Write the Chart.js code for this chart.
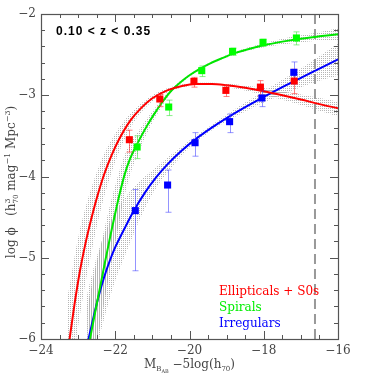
<!DOCTYPE html>
<html><head><meta charset="utf-8">
<script src="https://cdn.jsdelivr.net/npm/chart.js@4"></script>
<style>html,body{margin:0;padding:0;background:#fff}</style>
</head><body>
<canvas id="c" width="374" height="374"></canvas>
<script>
// ---- measured points with error bars ----
const redX  = [-21.62, -20.80, -19.88, -19.02, -18.09, -17.18];
const redY  = [-3.547, -3.046, -2.830, -2.940, -2.900, -2.825];
const redHi = [-3.43, -2.99, -2.78, -2.875, -2.82, -2.68];
const redLo = [-3.70, -3.14, -2.90, -3.015, -3.005, -2.98];

const grnX  = [-21.41, -20.56, -19.67, -18.84, -18.02, -17.12];
const grnY  = [-3.637, -3.145, -2.697, -2.460, -2.349, -2.295];
const grnHi = [-3.50, -3.06, -2.64, -2.42, -2.31, -2.22];
const grnLo = [-3.78, -3.25, -2.77, -2.51, -2.40, -2.38];

const bluX  = [-21.46, -20.59, -19.85, -18.92, -18.05, -17.19];
const bluY  = [-4.420, -4.105, -3.584, -3.325, -3.034, -2.718];
const bluHi = [-4.16, -3.92, -3.46, -3.23, -2.94, -2.59];
const bluLo = [-5.16, -4.44, -3.75, -3.46, -3.14, -2.86];

// ---- fitted curves and their uncertainty bands ----
const redCurveX = [-23.30,-23.23,-23.10,-22.95,-22.80,-22.65,-22.50,-22.30,-22.10,-21.90,-21.60,-21.30,-21.00,-20.60,-20.20,-19.80,-19.40,-19.00,-18.50,-18.00,-17.50,-17.00,-16.50,-16.00];
const redCurveY = [-6.25,-6.00,-5.58,-5.16,-4.82,-4.53,-4.27,-3.975,-3.74,-3.545,-3.315,-3.155,-3.037,-2.940,-2.885,-2.863,-2.862,-2.877,-2.909,-2.951,-3.000,-3.053,-3.109,-3.160];
const redBandHi = [-5.50,-5.35,-5.00,-4.65,-4.38,-4.15,-3.95,-3.72,-3.55,-3.40,-3.23,-3.10,-3.00,-2.915,-2.865,-2.845,-2.845,-2.855,-2.880,-2.910,-2.950,-2.990,-3.035,-3.080];
const redBandLo = [-6.80,-6.60,-6.15,-5.70,-5.30,-4.95,-4.62,-4.25,-3.95,-3.70,-3.41,-3.21,-3.075,-2.965,-2.905,-2.880,-2.880,-2.900,-2.940,-2.995,-3.055,-3.120,-3.190,-3.260];

const grnCurveX = [-22.75,-22.68,-22.58,-22.46,-22.36,-22.27,-22.18,-22.09,-21.98,-21.88,-21.75,-21.60,-21.37,-21.15,-20.97,-20.75,-20.52,-20.25,-19.98,-19.71,-19.44,-19.10,-18.81,-18.40,-18.00,-17.50,-17.10,-16.50,-16.00];
const grnCurveY = [-6.17,-6.00,-5.76,-5.48,-5.25,-5.04,-4.84,-4.64,-4.41,-4.21,-3.98,-3.78,-3.565,-3.38,-3.245,-3.095,-2.960,-2.843,-2.748,-2.672,-2.607,-2.540,-2.485,-2.430,-2.385,-2.340,-2.310,-2.275,-2.249];
const grnBandHi = [-5.60,-5.45,-5.22,-4.98,-4.78,-4.60,-4.43,-4.26,-4.08,-3.92,-3.74,-3.59,-3.44,-3.29,-3.18,-3.055,-2.935,-2.825,-2.735,-2.660,-2.595,-2.525,-2.468,-2.410,-2.360,-2.305,-2.270,-2.225,-2.175];
const grnBandLo = [-6.75,-6.55,-6.30,-5.98,-5.72,-5.48,-5.25,-5.02,-4.76,-4.52,-4.24,-3.98,-3.70,-3.47,-3.31,-3.14,-2.985,-2.860,-2.765,-2.685,-2.620,-2.555,-2.500,-2.450,-2.410,-2.375,-2.355,-2.330,-2.330];

const bluCurveX = [-22.78,-22.72,-22.58,-22.44,-22.30,-22.15,-22.00,-21.85,-21.70,-21.50,-21.20,-20.90,-20.60,-20.20,-19.80,-19.40,-19.00,-18.50,-18.00,-17.50,-17.00,-16.50,-16.00];
const bluCurveY = [-6.13,-6.00,-5.72,-5.46,-5.24,-5.04,-4.87,-4.73,-4.595,-4.422,-4.198,-4.011,-3.854,-3.678,-3.528,-3.398,-3.281,-3.146,-3.021,-2.900,-2.785,-2.672,-2.559];
const bluBandHi = [-5.50,-5.38,-5.12,-4.90,-4.72,-4.56,-4.43,-4.33,-4.24,-4.13,-4.00,-3.89,-3.77,-3.63,-3.49,-3.365,-3.24,-3.09,-2.95,-2.81,-2.67,-2.52,-2.36];
const bluBandLo = [-6.75,-6.60,-6.30,-6.00,-5.75,-5.50,-5.28,-5.10,-4.93,-4.70,-4.39,-4.14,-3.95,-3.74,-3.57,-3.43,-3.32,-3.20,-3.09,-2.99,-2.90,-2.82,-2.76];

const limitX = [-16.62, -16.62];
const limitY = [-6, -2];

const xTicks = [-24, -22, -20, -18, -16];
const yTicks = [-6, -5, -4, -3, -2];

const legendLabels = ['Ellipticals + S0s', 'Spirals', 'Irregulars'];
const zLabel = '0.10 < z < 0.35';

// ---- helpers ----
const pts = (xs, ys) => xs.map((x, i) => ({x: x, y: ys[i]}));
const fmt = v => (v < 0 ? '\u2212' : '') + Math.abs(v);

function dotPattern(ox, oy) {
  const c = document.createElement('canvas');
  c.width = 2; c.height = 2;
  const g = c.getContext('2d');
  g.fillStyle = 'rgba(120,120,120,0.55)';
  g.fillRect(ox, oy, 1, 1);
  return g.createPattern(c, 'repeat');
}

const markerSet = (xs, ys, col) => ({
  data: pts(xs, ys), showLine: false, pointStyle: 'rect', pointRadius: 5,
  pointBackgroundColor: col, pointBorderColor: col, pointBorderWidth: 0
});
const curveSet = (xs, ys, col) => ({
  data: pts(xs, ys), showLine: true, borderColor: col, borderWidth: 2,
  pointRadius: 0, cubicInterpolationMode: 'monotone', fill: false, clip: 0
});
const bandSet = (xs, ys, fill, pat) => ({
  data: pts(xs, ys), showLine: true, borderWidth: 0, borderColor: 'rgba(0,0,0,0)',
  pointRadius: 0, cubicInterpolationMode: 'monotone', fill: fill,
  backgroundColor: pat || 'rgba(0,0,0,0)', clip: 0
});

const errSets = [
  {xs: redX, hi: redHi, lo: redLo, col: 'rgba(255,40,40,0.6)'},
  {xs: grnX, hi: grnHi, lo: grnLo, col: 'rgba(60,230,60,0.6)'},
  {xs: bluX, hi: bluHi, lo: bluLo, col: 'rgba(60,60,255,0.55)'}
];

const errorBars = {
  id: 'errorBars',
  beforeDatasetDraw(chart, args) {
    if (args.index !== 2) return;
    const {ctx, scales: {x, y}} = chart;
    ctx.save();
    ctx.lineWidth = 1;
    errSets.forEach(s => {
      ctx.strokeStyle = s.col;
      s.xs.forEach((xv, i) => {
        const px = Math.round(x.getPixelForValue(xv)) + 0.5;
        const p1 = y.getPixelForValue(s.hi[i]);
        const p2 = y.getPixelForValue(s.lo[i]);
        ctx.beginPath();
        ctx.moveTo(px, p1); ctx.lineTo(px, p2);
        ctx.moveTo(px - 3, p1); ctx.lineTo(px + 3, p1);
        ctx.moveTo(px - 3, p2); ctx.lineTo(px + 3, p2);
        ctx.stroke();
      });
    });
    ctx.restore();
  }
};

const frame = {
  id: 'frame',
  afterDatasetsDraw(chart) {
    const {ctx, chartArea: a, scales: {x, y}} = chart;
    ctx.save();
    ctx.strokeStyle = '#555';
    ctx.lineWidth = 1;
    ctx.beginPath();
    for (let k = 0; k <= 16; k++) {
      const v = -24 + k * 0.5;
      const px = Math.round(x.getPixelForValue(v)) + 0.5;
      const len = (k % 4 === 0) ? 8 : 4;
      ctx.moveTo(px, a.bottom); ctx.lineTo(px, a.bottom - len);
      ctx.moveTo(px, a.top); ctx.lineTo(px, a.top + len);
    }
    for (let k = 0; k <= 20; k++) {
      const v = -6 + k * 0.2;
      const py = Math.round(y.getPixelForValue(v)) + 0.5;
      const len = (k % 5 === 0) ? 8 : 4;
      ctx.moveTo(a.left, py); ctx.lineTo(a.left + len, py);
      ctx.moveTo(a.right, py); ctx.lineTo(a.right - len, py);
    }
    ctx.stroke();
    ctx.lineWidth = 1.2;
    ctx.strokeRect(Math.round(a.left) + 0.5, Math.round(a.top) + 0.5,
                   Math.round(a.right - a.left), Math.round(a.bottom - a.top));
    ctx.restore();
  }
};

function rich(ctx, segs) {
  let w = 0;
  segs.forEach(s => { ctx.font = s.s + 'px "DejaVu Serif"'; s.w = ctx.measureText(s.t).width; if (!s.stack) w += s.w; });
  return w;
}
function drawRich(ctx, segs, x0, base) {
  let x = x0;
  segs.forEach(s => {
    ctx.font = s.s + 'px "DejaVu Serif"';
    ctx.fillText(s.t, x, base + (s.dy || 0));
    if (!s.stack) x += s.w;
  });
}

const texts = {
  id: 'texts',
  afterDraw(chart) {
    const {ctx} = chart;
    ctx.save();
    ctx.textBaseline = 'alphabetic';
    ctx.textAlign = 'left';
    // redshift label
    ctx.fillStyle = '#000';
    ctx.font = 'bold 12px "Liberation Sans", Arial, sans-serif';
    try { ctx.letterSpacing = '1px'; } catch (e) {}
    ctx.fillText(zLabel, 56, 35);
    try { ctx.letterSpacing = '0px'; } catch (e) {}
    // legend
    const cols = ['#ff0000', '#00ee00', '#0000ff'];
    ctx.font = '12px "DejaVu Serif"';
    legendLabels.forEach((t, i) => {
      ctx.fillStyle = cols[i];
      ctx.fillText(t, 219, 294.5 + i * 16);
    });
    // x title
    ctx.fillStyle = '#444';
    const xs = [
      {t: 'M', s: 12}, {t: 'B', s: 7, dy: 3}, {t: 'AB', s: 5, dy: 5},
      {t: ' \u22125log(h', s: 12}, {t: '70', s: 7, dy: 3}, {t: ')', s: 12}
    ];
    const wx = rich(ctx, xs);
    drawRich(ctx, xs, 189.5 - wx / 2, 368);
    // y title
    const ys = [
      {t: 'log \u03d5   (h', s: 12}, {t: '3', s: 8, dy: -5, stack: true}, {t: '70', s: 7, dy: 3},
      {t: ' mag', s: 12}, {t: '\u22121', s: 8, dy: -5}, {t: ' Mpc', s: 12},
      {t: '\u22123', s: 8, dy: -5}, {t: ')', s: 12}
    ];
    const wy = rich(ctx, ys);
    ctx.translate(15, 182);
    ctx.rotate(-Math.PI / 2);
    drawRich(ctx, ys, -wy / 2, 0);
    ctx.restore();
  }
};

const datasets = [
  markerSet(redX, redY, '#ff0000'),
  markerSet(grnX, grnY, '#00ff00'),
  markerSet(bluX, bluY, '#0000ff'),
  curveSet(redCurveX, redCurveY, '#ff0000'),
  curveSet(grnCurveX, grnCurveY, '#00e600'),
  curveSet(bluCurveX, bluCurveY, '#0000ff'),
  {data: pts(limitX, limitY), showLine: true, borderColor: '#999', borderWidth: 2,
   borderDash: [10, 5], pointRadius: 0, fill: false},
  bandSet(redCurveX, redBandHi, '+1', dotPattern(0, 0)),
  bandSet(redCurveX, redBandLo, false),
  bandSet(grnCurveX, grnBandHi, '+1', dotPattern(1, 1)),
  bandSet(grnCurveX, grnBandLo, false),
  bandSet(bluCurveX, bluBandHi, '+1', dotPattern(1, 0)),
  bandSet(bluCurveX, bluBandLo, false)
];

const tickFont = {family: 'DejaVu Serif', size: 12};

new Chart(document.getElementById('c'), {
  type: 'line',
  data: {datasets: datasets},
  options: {
    responsive: false,
    animation: false,
    events: [],
    layout: {padding: {top: 14, right: 36, left: 0, bottom: 0}},
    plugins: {legend: {display: false}, tooltip: {enabled: false}},
    scales: {
      x: {
        type: 'linear', min: -24, max: -16,
        afterFit(s) { s.height = 35; },
        afterBuildTicks(s) { s.ticks = xTicks.map(v => ({value: v})); },
        ticks: {padding: 5, font: tickFont, color: '#444', maxRotation: 0, autoSkip: false, callback: fmt},
        grid: {display: false, drawTicks: false},
        border: {display: false}
      },
      y: {
        type: 'linear', min: -6, max: -2,
        afterFit(s) { s.width = 41; },
        afterBuildTicks(s) { s.ticks = yTicks.map(v => ({value: v})); },
        ticks: {padding: 5, font: tickFont, color: '#444', autoSkip: false, callback: fmt},
        grid: {display: false, drawTicks: false},
        border: {display: false}
      }
    }
  },
  plugins: [errorBars, frame, texts]
});
</script>
</body></html>
